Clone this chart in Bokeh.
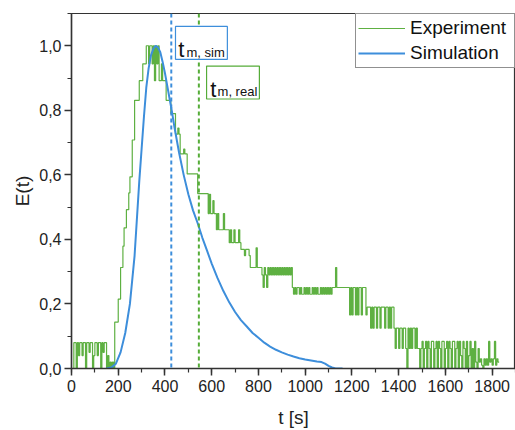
from bokeh.plotting import figure
from bokeh.models import (Range1d, SingleIntervalTicker, CustomJSTickFormatter,
                          Span, BoxAnnotation, Label, Legend, LegendItem)
from bokeh.embed import file_html
from bokeh.resources import INLINE

# ---------------- data ----------------
# Experiment: sampled every 5 s from 0 to 1830 s
exp_t = list(range(0, 1835, 5))
exp_e = [
    0, 0, 0.08, 0.08, 0, 0.08, 0.04, 0.08, 0.08, 0.04, 0.08, 0.08, 0, 0.08, 0.08, 0.05, 0.08, 0.08, 0, 0.04,
    0.08, 0.08, 0.04, 0.08, 0.08, 0, 0.08, 0.05, 0.08, 0.08, 0, 0.04, 0, 0.02, 0, 0.02, 0, 0.144, 0.144, 0.144,
    0.215, 0.215, 0.313, 0.313, 0.379, 0.436, 0.436, 0.492, 0.492, 0.544, 0.594, 0.594, 0.708, 0.708, 0.831, 0.831, 0.831, 0.831, 0.892, 0.892,
    0.892, 0.944, 0.944, 0.944, 1.0, 1.0, 0.944, 1.0, 1.0, 0.944, 1.0, 0.892, 1.0, 0.944, 1.0, 0.892, 0.892, 0.944, 0.892, 0.892,
    0.892, 0.831, 0.831, 0.831, 0.831, 0.79, 0.79, 0.79, 0.79, 0.726, 0.726, 0.745, 0.726, 0.665, 0.665, 0.665, 0.68, 0.665, 0.665, 0.603,
    0.603, 0.603, 0.603, 0.603, 0.603, 0.603, 0.603, 0.603, 0.542, 0.542, 0.542, 0.542, 0.542, 0.542, 0.542, 0.542, 0.542, 0.48, 0.54, 0.48,
    0.48, 0.52, 0.48, 0.48, 0.43, 0.48, 0.43, 0.43, 0.43, 0.43, 0.48, 0.43, 0.43, 0.43, 0.43, 0.39, 0.43, 0.39, 0.39, 0.43,
    0.39, 0.39, 0.39, 0.43, 0.39, 0.369, 0.369, 0.369, 0.35, 0.369, 0.369, 0.369, 0.35, 0.313, 0.313, 0.313, 0.313, 0.313, 0.374, 0.313,
    0.313, 0.313, 0.313, 0.29, 0.251, 0.313, 0.29, 0.251, 0.313, 0.29, 0.313, 0.29, 0.313, 0.29, 0.313, 0.29, 0.313, 0.29, 0.313, 0.29,
    0.313, 0.29, 0.313, 0.29, 0.313, 0.29, 0.313, 0.29, 0.313, 0.251, 0.23, 0.251, 0.23, 0.251, 0.251, 0.23, 0.251, 0.23, 0.23, 0.251,
    0.23, 0.251, 0.23, 0.251, 0.23, 0.23, 0.251, 0.23, 0.251, 0.23, 0.251, 0.23, 0.23, 0.251, 0.23, 0.251, 0.23, 0.251, 0.23, 0.251,
    0.23, 0.251, 0.23, 0.251, 0.251, 0.251, 0.313, 0.251, 0.251, 0.251, 0.251, 0.251, 0.251, 0.251, 0.251, 0.251, 0.251, 0.251, 0.166, 0.251,
    0.166, 0.251, 0.251, 0.166, 0.251, 0.166, 0.251, 0.251, 0.166, 0.251, 0.251, 0.251, 0.166, 0.19, 0.19, 0.19, 0.125, 0.19, 0.125, 0.19,
    0.19, 0.125, 0.19, 0.19, 0.125, 0.19, 0.19, 0.19, 0.125, 0.19, 0.19, 0.125, 0.19, 0.125, 0.19, 0.19, 0.125, 0.062, 0.125, 0.125,
    0.062, 0.125, 0.125, 0.062, 0.125, 0.125, 0.062, 0, 0.125, 0.062, 0.125, 0.062, 0.125, 0.125, 0.062, 0.125, 0.062, 0.062, 0, 0.062,
    0.084, 0, 0.062, 0.084, 0, 0.084, 0.062, 0, 0.084, 0.084, 0, 0.062, 0.084, 0, 0.084, 0.062, 0, 0.084, 0.084, 0,
    0.062, 0.084, 0, 0.084, 0.062, 0, 0.084, 0.084, 0, 0.062, 0.084, 0, 0.084, 0.04, 0, 0.084, 0.062, 0, 0.084, 0,
    0.04, 0.084, 0, 0.062, 0, 0.084, 0.02, 0, 0.062, 0.02, 0.03, 0.01, 0, 0.03, 0.01, 0.03, 0.01, 0.084, 0.02, 0.03,
    0.01, 0.03, 0.084, 0.01, 0.03, 0.02, 0.02,
]

# Simulation curve
sim_t = [150, 170, 190, 210, 230, 250, 270, 290, 300, 310, 320, 330, 340, 350, 360, 370, 380, 390,
         400, 410, 420, 430, 440, 460, 480, 500, 520, 540, 560, 580, 600, 625, 650, 675, 700, 725,
         750, 775, 800, 825, 850, 875, 900, 925, 950, 975, 1000, 1025, 1050, 1070, 1085, 1100, 1115,
         1130, 1160]
sim_e = [0.0, 0.003, 0.015, 0.05, 0.11, 0.20, 0.35, 0.58, 0.68, 0.78, 0.87, 0.93, 0.97, 0.99, 1.0,
         0.995, 0.98, 0.95, 0.915, 0.875, 0.835, 0.795, 0.75, 0.67, 0.60, 0.54, 0.49, 0.45, 0.405,
         0.365, 0.325, 0.28, 0.24, 0.205, 0.175, 0.15, 0.13, 0.11, 0.095, 0.08, 0.068, 0.058, 0.05,
         0.043, 0.037, 0.032, 0.028, 0.025, 0.022, 0.02, 0.015, 0.008, 0.003, 0.0, 0.0]

t_m_sim = 427
t_m_real = 545

series_names = ["Experiment", "Simulation"]

GREEN = "#55AC38"
BLUE = "#3D8EDB"
FONT = "Liberation Sans"

# ---------------- figure ----------------
p = figure(width=515, height=430, output_backend="svg", toolbar_location=None,
           x_range=Range1d(0, 1900), y_range=Range1d(0, 1.1),
           min_border_left=71, min_border_right=0, min_border_top=13, min_border_bottom=60)
p.grid.visible = False
p.outline_line_color = "#333333"
p.outline_line_width = 1.2
p.background_fill_color = "white"
p.border_fill_color = "white"

p.xaxis.ticker = SingleIntervalTicker(interval=200, num_minor_ticks=2)
p.yaxis.ticker = SingleIntervalTicker(interval=0.2, num_minor_ticks=2)
p.yaxis.formatter = CustomJSTickFormatter(code="return tick.toFixed(1).replace('.', ',');")

for ax in (p.xaxis[0], p.yaxis[0]):
    ax.axis_line_color = "#333333"
    ax.axis_line_width = 1.5
    ax.major_tick_line_color = "#333333"
    ax.major_tick_line_width = 1.5
    ax.minor_tick_line_color = "#333333"
    ax.minor_tick_line_width = 1.2
    ax.major_tick_out = 7
    ax.major_tick_in = 0
    ax.minor_tick_out = 4
    ax.minor_tick_in = 0
    ax.major_label_text_font = FONT
    ax.major_label_text_font_size = "16px"
    ax.major_label_text_color = "#222222"
    ax.axis_label_text_font = FONT
    ax.axis_label_text_font_size = "19px"
    ax.axis_label_text_font_style = "normal"
    ax.axis_label_text_color = "#222222"

p.xaxis.axis_label = "t [s]"
p.yaxis.axis_label = "E(t)"
p.xaxis.major_label_standoff = 4
p.xaxis.axis_label_standoff = 12
p.yaxis.major_label_standoff = 3
p.yaxis.axis_label_standoff = 3

# reference lines
p.add_layout(Span(location=t_m_sim, dimension="height", line_color=BLUE,
                  line_dash="4 3", line_width=2))
p.add_layout(Span(location=t_m_real, dimension="height", line_color=GREEN,
                  line_dash="4 3", line_width=2))

exp_r = p.step(exp_t, exp_e, mode="after", line_color=GREEN, line_width=1.2, line_alpha=0.95)
sim_r = p.line(sim_t, sim_e, line_color=BLUE, line_width=2)

# annotation boxes
p.add_layout(BoxAnnotation(left=445, right=667, top=1.06, bottom=0.958,
                           fill_color="white", fill_alpha=1, line_color=BLUE,
                           line_width=1.2, line_alpha=1))
p.add_layout(Label(x=457, y=0.989, text="t", text_font=FONT, text_font_size="22px",
                   text_color="#111111", text_baseline="alphabetic"))
p.add_layout(Label(x=492, y=0.980, text="m, sim", text_font=FONT, text_font_size="13px",
                   text_color="#111111", text_baseline="alphabetic"))

p.add_layout(BoxAnnotation(left=578, right=804, top=0.937, bottom=0.835,
                           fill_color="white", fill_alpha=1, line_color=GREEN,
                           line_width=1.2, line_alpha=1))
p.add_layout(Label(x=594, y=0.866, text="t", text_font=FONT, text_font_size="22px",
                   text_color="#111111", text_baseline="alphabetic"))
p.add_layout(Label(x=625, y=0.857, text="m, real", text_font=FONT, text_font_size="13px",
                   text_color="#111111", text_baseline="alphabetic"))

leg = Legend(items=[LegendItem(label=series_names[0], renderers=[exp_r]),
                    LegendItem(label=series_names[1], renderers=[sim_r])],
             location="top_right", margin=0, padding=2, spacing=1,
             glyph_width=47, glyph_height=24, label_height=24, label_width=102,
             label_standoff=5,
             label_text_font=FONT, label_text_font_size="19px", label_text_color="#111111",
             border_line_color="#222222", border_line_width=1.2, background_fill_alpha=1)
p.add_layout(leg)

open("out.html", "w").write(file_html(p, INLINE))
